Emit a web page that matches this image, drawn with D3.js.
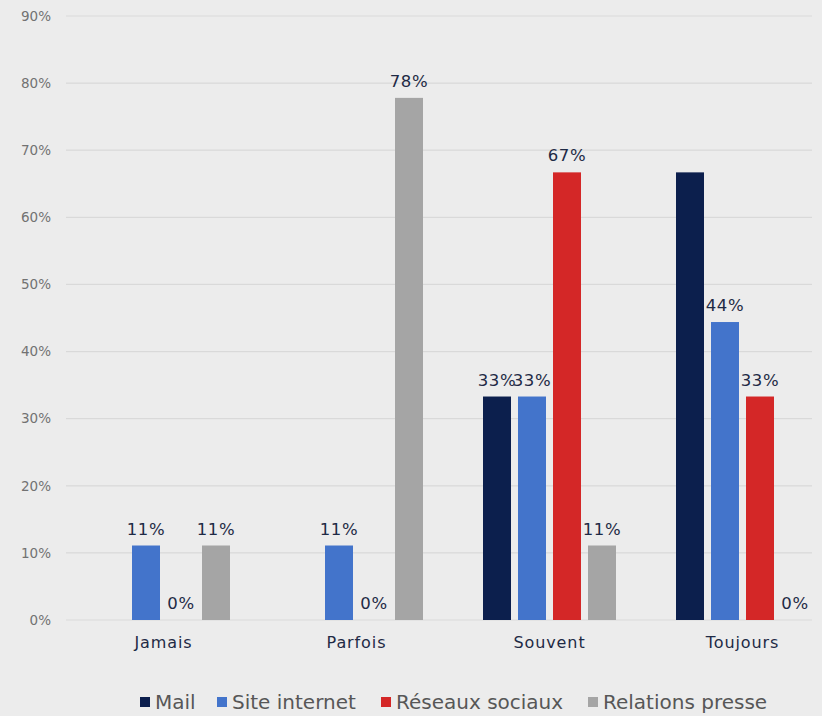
<!DOCTYPE html>
<html><head><meta charset="utf-8">
<script src="https://cdn.jsdelivr.net/npm/d3@7/dist/d3.min.js"></script>
<style>
html,body{margin:0;padding:0;background:#ececec;}
svg{display:block;}
</style></head>
<body>
<svg id="c" width="822" height="716"></svg>
<script>
const categories = ["Jamais", "Parfois", "Souvent", "Toujours"];
const seriesNames = ["Mail", "Site internet", "Réseaux sociaux", "Relations presse"];
const mail = [null, null, 33.3, 66.7];
const siteInternet = [11.1, 11.1, 33.3, 44.4];
const reseauxSociaux = [0, 0, 66.7, 33.3];
const relationsPresse = [11.1, 77.8, 11.1, 0];
const mailLabelShown = [false, false, true, false];
const yTicks = [0, 10, 20, 30, 40, 50, 60, 70, 80, 90];
const colors = ["#0c1f4d", "#4374cb", "#d42727", "#a5a5a5"];

const seriesValues = [mail, siteInternet, reseauxSociaux, relationsPresse];
const labelShown = [mailLabelShown, [true,true,true,true], [true,true,true,true], [true,true,true,true]];
const FONT = "Verdana, DejaVu Sans, sans-serif";

const svg = d3.select("#c");
const y = d3.scaleLinear().domain([0, 90]).range([620, 16]);
const x0 = d3.scaleBand().domain(categories).range([67, 839]).padding(0);
const x1 = d3.scaleBand().domain(seriesNames).range([-70, 70]).paddingInner(0.2).paddingOuter(0.1);

// gridlines
svg.append("g").selectAll("line").data(yTicks).join("line")
  .attr("x1", 66).attr("x2", 812)
  .attr("y1", d => y(d)).attr("y2", d => y(d))
  .attr("stroke", "#d9d9d9").attr("stroke-width", 1.2);

// y axis labels
svg.append("g").selectAll("text").data(yTicks).join("text")
  .attr("x", 51).attr("y", d => y(d)).attr("dy", "0.35em")
  .attr("text-anchor", "end")
  .attr("font-family", FONT).attr("font-size", 13.5)
  .attr("fill", "#727272")
  .text(d => d + "%");

// bars
const groups = svg.append("g").selectAll("g").data(categories).join("g")
  .attr("transform", c => `translate(${x0(c) + x0.bandwidth() / 2},0)`);

seriesNames.forEach((s, si) => {
  categories.forEach((c, ci) => {
    const v = seriesValues[si][ci];
    if (v === null) return;
    const g = groups.filter(d => d === c);
    g.append("rect")
      .attr("x", x1(s)).attr("width", x1.bandwidth())
      .attr("y", y(v)).attr("height", y(0) - y(v))
      .attr("fill", colors[si]);
    if (labelShown[si][ci]) {
      g.append("text")
        .attr("x", x1(s) + x1.bandwidth() / 2)
        .attr("y", y(v) - 11)
        .attr("text-anchor", "middle")
        .attr("font-family", FONT).attr("font-size", 16.5)
        .attr("letter-spacing", 0.6)
        .attr("fill", "#1e2a45")
        .text(Math.round(v) + "%");
    }
  });
});

// category labels
svg.append("g").selectAll("text").data(categories).join("text")
  .attr("x", c => x0(c) + x0.bandwidth() / 2).attr("y", 648)
  .attr("text-anchor", "middle")
  .attr("font-family", FONT).attr("font-size", 16)
  .attr("letter-spacing", 0.9)
  .attr("fill", "#1e2a45")
  .text(c => c);

// legend
const legendX = [140, 217, 381, 588];
const leg = svg.append("g").selectAll("g").data(seriesNames).join("g")
  .attr("transform", (d, i) => `translate(${legendX[i]},702)`);
leg.append("rect").attr("x", 0).attr("y", -5).attr("width", 10).attr("height", 10)
  .attr("fill", (d, i) => colors[i]);
leg.append("text").attr("x", 15).attr("y", 0).attr("dy", "0.36em")
  .attr("font-family", FONT).attr("font-size", 20)
  .attr("fill", "#575757")
  .text(d => d);
</script>
</body></html>
